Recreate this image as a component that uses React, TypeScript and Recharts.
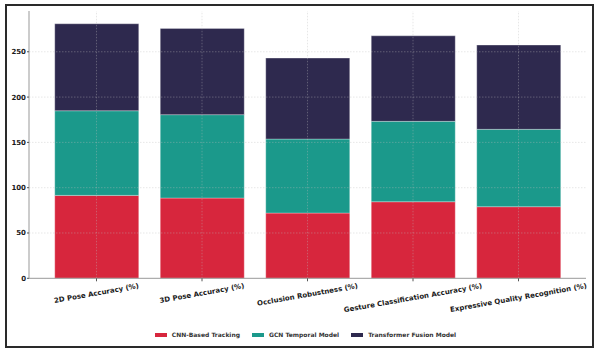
import React from "react";
import {
  BarChart,
  Bar,
  XAxis,
  YAxis,
  Legend,
  ReferenceLine,
} from "recharts";

const categories = [
  "2D Pose Accuracy (%)",
  "3D Pose Accuracy (%)",
  "Occlusion Robustness (%)",
  "Gesture Classification Accuracy (%)",
  "Expressive Quality Recognition (%)",
];
const cnnTracking = [91.5, 88.6, 72.0, 84.5, 79.0];
const gcnTemporal = [93.4, 92.0, 81.7, 88.7, 85.4];
const transformerFusion = [96.0, 95.2, 89.3, 94.4, 93.0];
const yTicks = [0, 50, 100, 150, 200, 250];

const series = [
  { key: "cnn", name: "CNN-Based Tracking", color: "#D7263D" },
  { key: "gcn", name: "GCN Temporal Model", color: "#1B998B" },
  { key: "trf", name: "Transformer Fusion Model", color: "#2E294E" },
];

const data = categories.map((c, i) => ({
  category: c,
  cnn: cnnTracking[i],
  gcn: gcnTemporal[i],
  trf: transformerFusion[i],
}));

const FONT = "'DejaVu Sans', sans-serif";
const ROT = 10;

let ctx: CanvasRenderingContext2D | null = null;
function textWidth(s: string) {
  if (!ctx) ctx = document.createElement("canvas").getContext("2d");
  if (!ctx) return s.length * 4.3;
  ctx.font = "bold 7px 'DejaVu Sans'";
  return ctx.measureText(s).width;
}

// rotated tick, centred on the tick like matplotlib's ha="center"
const XTick = (props: any) => {
  const { x, payload } = props;
  const w = textWidth(payload.value);
  const rad = (ROT * Math.PI) / 180;
  const h = w * Math.sin(rad) + 8.2 * Math.cos(rad);
  const cy = 282 + h / 2;
  return (
    <text
      x={x}
      y={cy}
      textAnchor="middle"
      dominantBaseline="central"
      transform={`rotate(-${ROT}, ${x}, ${cy})`}
      style={{ fontFamily: FONT, fontSize: 7, fontWeight: "bold", fill: "#1a1a1a" }}
    >
      {payload.value}
    </text>
  );
};

const LegendContent = () => (
  <div
    style={{
      display: "flex",
      justifyContent: "center",
      alignItems: "center",
      fontFamily: FONT,
      fontSize: 6,
      fontWeight: "bold",
      color: "#333",
      paddingLeft: 24,
    }}
  >
    {series.map((s) => (
      <div key={s.key} style={{ display: "flex", alignItems: "center", marginRight: 12 }}>
        <span style={{ width: 12, height: 4, background: s.color, marginRight: 5 }} />
        <span>{s.name}</span>
      </div>
    ))}
  </div>
);

export default function App() {
  return (
    <div style={{ position: "absolute", left: 0, top: 0, width: 599, height: 356, background: "#fff" }}>
      <div
        style={{
          position: "absolute",
          left: 5,
          top: 4,
          width: 589,
          height: 344,
          border: "2px solid #2a2a2a",
          boxSizing: "border-box",
        }}
      />
      <BarChart
        width={599}
        height={356}
        data={data}
        margin={{ top: 11, right: 13, left: 0, bottom: 0 }}
        barSize={84}
      >
        <XAxis
          dataKey="category"
          height={77.7}
          padding={{ left: 14.75, right: 14.75 }}
          stroke="#999"
          tickSize={3}
          tickLine={{ stroke: "#555" }}
          interval={0}
          tick={<XTick />}
        />
        <YAxis
          width={29}
          domain={[0, 295]}
          ticks={yTicks}
          stroke="#999"
          tickSize={2}
          tickMargin={1}
          tickLine={{ stroke: "#555" }}
          tick={{ fontFamily: FONT, fontSize: 7, fontWeight: "bold", fill: "#1a1a1a" }}
        />
        {series.map((s) => (
          <Bar
            key={s.key}
            dataKey={s.key}
            name={s.name}
            stackId="a"
            fill={s.color}
            stroke="#ffffff"
            strokeOpacity={0.5}
            strokeWidth={0.6}
            isAnimationActive={false}
          />
        ))}
        {yTicks.slice(1).map((t) => (
          <ReferenceLine key={"y" + t} y={t} stroke="#bbbbbb" strokeOpacity={0.45} strokeDasharray="1.5 1.5" strokeWidth={0.8} />
        ))}
        {categories.map((c) => (
          <ReferenceLine key={"x" + c} x={c} stroke="#bbbbbb" strokeOpacity={0.45} strokeDasharray="1.5 1.5" strokeWidth={0.8} />
        ))}
        <Legend
          layout="horizontal"
          verticalAlign="middle"
          align="center"
          wrapperStyle={{ top: 331, left: 0, width: 599, height: 10 }}
          content={<LegendContent />}
        />
      </BarChart>
    </div>
  );
}
